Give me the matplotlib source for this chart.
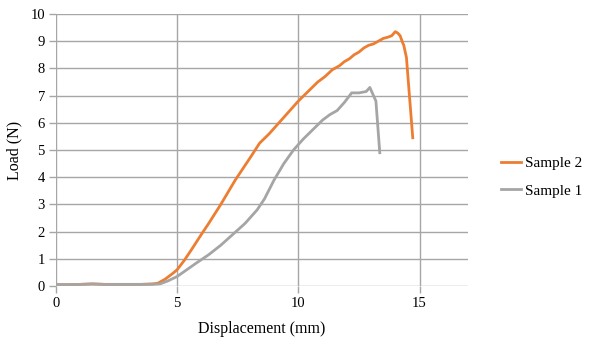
import matplotlib.pyplot as plt

# Sample 2 (orange)
s2_x = [0, 0.5, 1.0, 1.5, 2.0, 2.5, 3.0, 3.5, 4.0, 4.2, 4.5, 4.8, 5.0, 5.3, 5.6, 6.0, 6.3,
        6.8, 7.4, 8.0, 8.4, 8.8, 9.2, 9.6, 10.0, 10.4, 10.8, 11.1, 11.4, 11.7, 11.9, 12.1,
        12.3, 12.5, 12.7, 12.9, 13.1, 13.3, 13.5, 13.7, 13.85, 14.0, 14.1, 14.2, 14.3,
        14.35, 14.46, 14.72]
s2_y = [0.05, 0.05, 0.06, 0.08, 0.06, 0.06, 0.06, 0.06, 0.08, 0.1, 0.25, 0.45, 0.6, 0.95,
        1.35, 1.9, 2.3, 3.0, 3.9, 4.7, 5.25, 5.6, 6.0, 6.4, 6.8, 7.15, 7.5, 7.7, 7.95, 8.1,
        8.25, 8.35, 8.5, 8.6, 8.75, 8.85, 8.9, 9.0, 9.1, 9.15, 9.2, 9.35, 9.3, 9.2, 8.95,
        8.85, 8.4, 5.45]

# Sample 1 (grey)
s1_x = [0, 0.5, 1.0, 1.5, 2.0, 2.5, 3.0, 3.5, 4.0, 4.3, 4.6, 5.0, 5.4, 5.8, 6.3, 6.8,
        7.3, 7.8, 8.3, 8.6, 9.0, 9.4, 9.8, 10.2, 10.6, 11.0, 11.3, 11.6, 11.9, 12.2, 12.5,
        12.8, 12.95, 13.1, 13.2, 13.36]
s1_y = [0.05, 0.05, 0.06, 0.07, 0.06, 0.06, 0.06, 0.06, 0.06, 0.08, 0.18, 0.35, 0.6,
        0.85, 1.15, 1.5, 1.9, 2.3, 2.8, 3.2, 3.9, 4.5, 5.0, 5.4, 5.75, 6.1, 6.3, 6.45,
        6.75, 7.1, 7.1, 7.15, 7.3, 7.0, 6.8, 4.9]

plt.rcParams['font.family'] = ['Liberation Serif']

fig = plt.figure(figsize=(5.9, 3.45), dpi=100)
ax = fig.add_axes([56 / 590, 59 / 345, 412 / 590, 272 / 345])

ax.plot(s2_x, s2_y, color='#ED7D31', lw=2.0, label='Sample 2')
ax.plot(s1_x, s1_y, color='#A5A5A5', lw=2.0, label='Sample 1')

ax.set_xlim(0, 17)
ax.set_ylim(0, 10)
ax.set_xticks([0, 5, 10, 15])
ax.set_yticks(range(0, 11))
ax.grid(True, color='#A6A6A6', lw=1.0)
ax.set_axisbelow(True)
for s in ax.spines.values():
    s.set_visible(False)
ax.tick_params(length=5, width=1.0, color='#A6A6A6', labelsize=10.5, pad=3)

ax.set_xlabel('Displacement (mm)', fontsize=11.5, labelpad=8)
ax.set_ylabel('Load (N)', fontsize=11.5, labelpad=6)

ax.legend(loc='center left', bbox_to_anchor=(1.08, 0.40), frameon=False,
          fontsize=11, handlelength=1.3, handletextpad=0.3, labelspacing=0.9,
          borderpad=0, borderaxespad=0)

fig.savefig('out.png')
